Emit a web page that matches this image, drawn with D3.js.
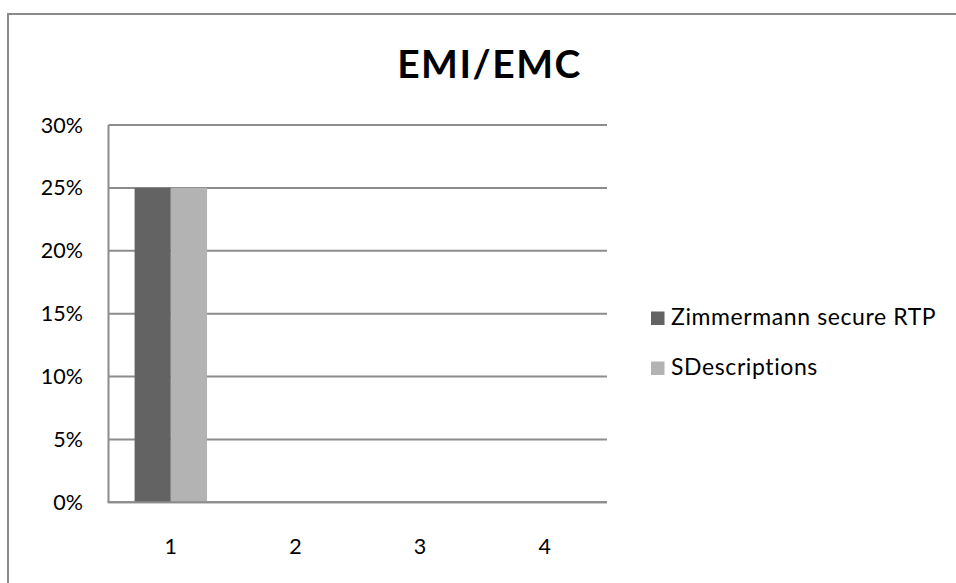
<!DOCTYPE html>
<html>
<head>
<meta charset="utf-8">
<script src="https://cdn.jsdelivr.net/npm/d3@7"></script>
<style>
  html, body { margin: 0; padding: 0; background: #fff; }
  svg { display: block; }
  text { font-family: Lato, "Open Sans", sans-serif; fill: #000; }
</style>
</head>
<body>
<svg id="chart" width="956" height="583"></svg>
<script>
const title = "EMI/EMC";
const categories = ["1", "2", "3", "4"];
const seriesNames = ["Zimmermann secure RTP", "SDescriptions"];
const zimmermann = [0.25, 0, 0, 0];
const sdescriptions = [0.25, 0, 0, 0];
const yTicks = [0, 0.05, 0.10, 0.15, 0.20, 0.25, 0.30];
const colors = ["#636363", "#b3b3b3"];

const svg = d3.select("#chart");
const W = 956, H = 583;
svg.append("rect").attr("width", W).attr("height", H).attr("fill", "#fff");

// outer chart border
svg.append("rect")
  .attr("x", 8).attr("y", 14)
  .attr("width", 1000).attr("height", 1000)
  .attr("fill", "none").attr("stroke", "#8a8a8a").attr("stroke-width", 2);

const plot = { left: 108.5, right: 607, top: 125, bottom: 502.3 };

const x0 = d3.scaleBand().domain(categories).range([plot.left, plot.right]).paddingInner(0).paddingOuter(0);
const x1 = d3.scaleBand().domain(seriesNames).range([0, x0.bandwidth()]).paddingInner(0).paddingOuter(0.72);
const y = d3.scaleLinear().domain([0, 0.30]).range([plot.bottom, plot.top]);

// gridlines
svg.append("g").selectAll("line").data(yTicks).join("line")
  .attr("x1", plot.left).attr("x2", plot.right)
  .attr("y1", d => y(d)).attr("y2", d => y(d))
  .attr("stroke", "#8c8c8c").attr("stroke-width", 2);

// bars
const data = categories.map((c, i) => ({ cat: c, vals: [zimmermann[i], sdescriptions[i]] }));
const groups = svg.append("g").selectAll("g").data(data).join("g")
  .attr("transform", d => `translate(${x0(d.cat)},0)`);
groups.selectAll("rect").data(d => d.vals.map((v, j) => ({ v, s: seriesNames[j], j })))
  .join("rect")
  .attr("x", d => x1(d.s))
  .attr("width", x1.bandwidth())
  .attr("y", d => y(d.v))
  .attr("height", d => y(0) - y(d.v))
  .attr("fill", d => colors[d.j]);

// axes lines
svg.append("line").attr("x1", plot.left).attr("x2", plot.left)
  .attr("y1", plot.top).attr("y2", plot.bottom)
  .attr("stroke", "#8c8c8c").attr("stroke-width", 2);
svg.append("line").attr("x1", plot.left - 1).attr("x2", plot.right)
  .attr("y1", plot.bottom).attr("y2", plot.bottom)
  .attr("stroke", "#8c8c8c").attr("stroke-width", 2);

// y axis labels
const fmt = d3.format(".0%");
svg.append("g").selectAll("text").data(yTicks).join("text")
  .attr("x", 83).attr("y", d => y(d) + 7.5)
  .attr("text-anchor", "end").attr("font-size", 21.5)
  .text(d => fmt(d));

// x axis labels
svg.append("g").selectAll("text").data(categories).join("text")
  .attr("x", d => x0(d) + x0.bandwidth() / 2).attr("y", 553.5)
  .attr("text-anchor", "middle").attr("font-size", 21.5)
  .text(d => d);

// title
svg.append("text").attr("x", 489.5).attr("y", 78)
  .attr("text-anchor", "middle").attr("font-size", 39).attr("font-weight", "bold")
  .attr("letter-spacing", 1.5)
  .text(title);

// legend
const leg = svg.append("g").selectAll("g").data(seriesNames).join("g")
  .attr("transform", (d, i) => `translate(651,${325 + i * 50})`);
leg.append("rect").attr("x", 0).attr("y", -13.5).attr("width", 13.5).attr("height", 13.5)
  .attr("fill", (d, i) => colors[i]);
leg.append("text").attr("x", 20).attr("y", 0).attr("font-size", 23).attr("letter-spacing", 0.6).text(d => d);
</script>
</body>
</html>
